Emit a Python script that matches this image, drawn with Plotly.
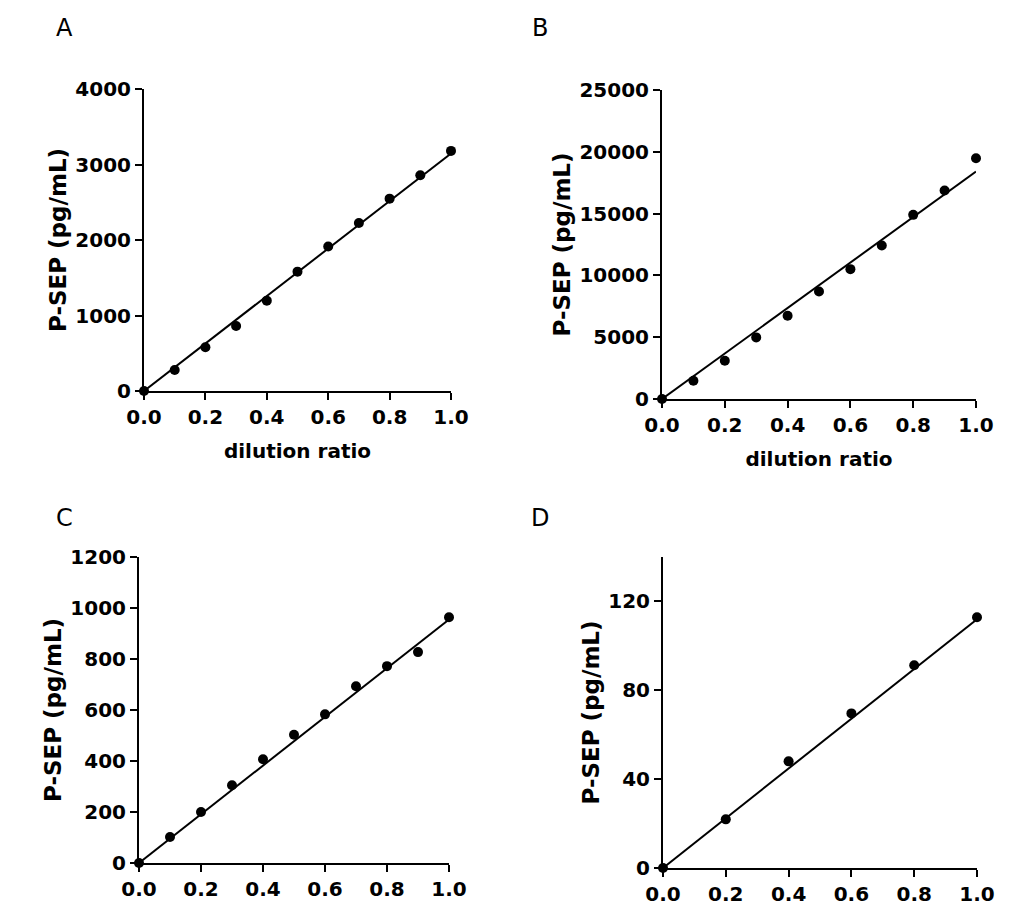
import plotly.graph_objects as go

# dilution series
ratio_ac = [0.0, 0.1, 0.2, 0.3, 0.4, 0.5, 0.6, 0.7, 0.8, 0.9, 1.0]
ratio_d = [0.0, 0.2, 0.4, 0.6, 0.8, 1.0]

psep_a = [0, 278, 579, 861, 1197, 1581, 1913, 2226, 2548, 2858, 3180]
psep_b = [0, 1482, 3098, 4984, 6735, 8702, 10507, 12420, 14898, 16865, 19478]
psep_c = [0, 102, 200, 305, 407, 503, 583, 693, 772, 827, 964]
psep_d = [0, 21.9, 48, 69.6, 91.3, 112.9]

# fitted line value at ratio 1.0 (line goes through origin)
fit_end = [3145, 18400, 955, 112]

panel_letters = ["A", "B", "C", "D"]
y_ranges = [[0, 4000], [0, 25000], [0, 1200], [0, 140]]
y_dticks = [1000, 5000, 200, 40]
x_dticks = [0.2, 0.2, 0.2, 0.2]

# the page body adds an 8px margin, so the figure is drawn 8px smaller
PAD = 8
W, H = 1024 - PAD, 905 - PAD
# plot boxes in screen pixels: x0, x1, ytop, ybottom
boxes = [
    (144, 451, 89, 391),
    (662, 976, 90, 399),
    (139, 449, 557, 863),
    (663, 977, 557, 868),
]
letter_pos = [(64, 28), (540, 28), (64, 518), (540, 518)]

fig = go.Figure()

font_b = dict(family="DejaVu Sans", color="black", weight="bold")

panels = [
    (ratio_ac, psep_a),
    (ratio_ac, psep_b),
    (ratio_ac, psep_c),
    (ratio_d, psep_d),
]


def px_x(v):
    return (v - PAD) / W


def px_y(v):
    return 1 - (v - PAD) / H


for i, (xs, ys) in enumerate(panels):
    n = "" if i == 0 else str(i + 1)
    xa, ya = "x" + n, "y" + n

    fig.add_trace(go.Scatter(
        x=[0, 1], y=[0, fit_end[i]], xaxis=xa, yaxis=ya,
        mode="lines", line=dict(color="black", width=2),
        showlegend=False, cliponaxis=False, hoverinfo="skip"))
    fig.add_trace(go.Scatter(
        x=xs, y=ys, xaxis=xa, yaxis=ya,
        mode="markers", marker=dict(color="black", size=10),
        showlegend=False, cliponaxis=False))

    x0, x1, yt, yb = boxes[i]
    axis_common = dict(
        showline=True, linecolor="black", linewidth=2,
        ticks="outside", ticklen=7, tickwidth=2, tickcolor="black",
        showgrid=False, zeroline=False, automargin=False,
        tickfont=dict(size=20, **font_b),
    )
    fig.layout["xaxis" + n] = dict(
        domain=[px_x(x0), px_x(x1)], anchor=ya, range=[0, 1],
        dtick=x_dticks[i], tick0=0, tickformat=".1f",
        title=dict(text="dilution ratio" if i < 2 else "",
                   font=dict(size=20, **font_b), standoff=16),
        **axis_common)
    fig.layout["yaxis" + n] = dict(
        domain=[px_y(yb), px_y(yt)], anchor=xa, range=y_ranges[i],
        dtick=y_dticks[i], tick0=0, tickformat="d",
        title=dict(text="P-SEP (pg/mL)", font=dict(size=23, **font_b), standoff=2),
        **axis_common)

    lx, ly = letter_pos[i]
    fig.add_annotation(
        text=panel_letters[i], xref="paper", yref="paper",
        x=px_x(lx), y=px_y(ly),
        xanchor="center", yanchor="middle", showarrow=False,
        font=dict(family="DejaVu Sans", size=24, color="black"))

fig.update_layout(
    width=W, height=H,
    margin=dict(l=0, r=0, t=0, b=0),
    paper_bgcolor="white", plot_bgcolor="white",
)

fig.write_html("out.html")
